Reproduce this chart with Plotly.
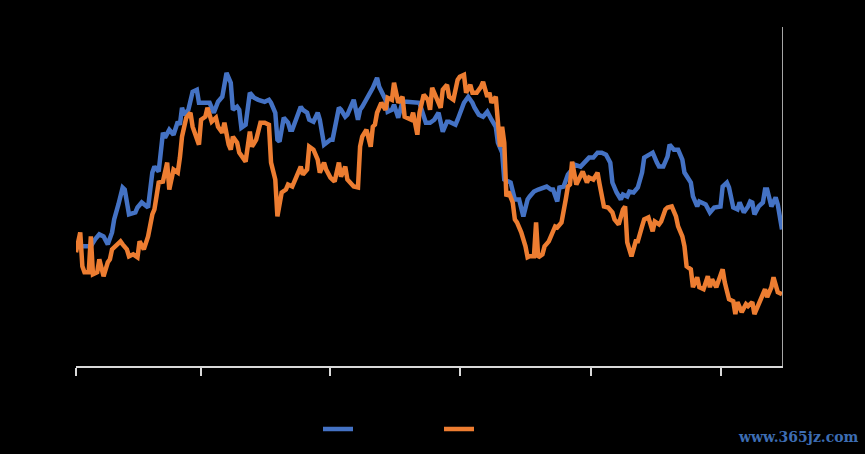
import pandas as pd
import plotly.graph_objects as go

start_date = "2018-01-01"
end_date = "2018-11-30"
tick_dates = ["2018-01-01", "2018-03-01", "2018-05-01", "2018-07-01", "2018-09-01", "2018-11-01"]
series_names = ["系列1", "系列2"]

blue_days = [0, 2, 3, 5, 7, 9, 11, 13, 15, 17, 18, 20, 22, 23, 24, 25, 28, 29, 31, 33, 34, 36, 37, 39, 41, 42, 44, 46, 48, 49,
             50, 51, 53, 55, 57, 58, 60, 62, 63, 65, 67, 69, 71, 73, 74, 76, 77, 78, 80, 82, 84, 86, 88, 89, 91, 92, 94, 95, 96, 98,
             100, 101, 102, 104, 106, 107, 109, 110, 112, 114, 115, 117, 120, 121, 124, 125, 127, 128, 131, 133, 134, 135, 137, 139, 140, 142, 143, 146, 147, 149,
             150, 152, 154, 156, 158, 161, 162, 165, 167, 169, 171, 173, 175, 176, 179, 180, 183, 185, 187, 188, 190, 192, 193, 194, 196, 198, 199, 201, 202, 205,
             207, 209, 211, 213, 214, 216, 218, 220, 222, 224, 225, 227, 228, 230, 232, 234, 235, 238, 240, 242, 244, 246, 248, 250, 252, 253, 255, 257, 258, 260,
             261, 263, 265, 267, 268, 271, 272, 274, 275, 277, 279, 280, 282, 284, 286, 287, 290, 291, 293, 294, 297, 299, 301, 304, 305, 307, 308, 310, 312, 313,
             315, 317, 318, 319, 320, 322, 324, 325, 326, 328, 330, 331, 333]
blue_vals = [0.2, 0.0, -0.2, -0.2, -0.2, 0.5, 1.0, 0.8, 0.0, 1.2, 2.5, 4.0, 5.7, 5.5, 4.5, 3.0, 3.2, 3.7, 4.2, 3.8, 3.7, 7.2, 7.8, 7.3, 11.2, 10.7, 11.5, 11.0, 12.3, 12.0,
             13.7, 13.0, 13.5, 15.3, 15.5, 14.2, 14.2, 14.3, 14.2, 13.2, 14.3, 14.8, 17.2, 16.2, 13.5, 13.8, 13.5, 11.7, 12.0, 15.2, 14.7, 14.5, 14.3, 14.3, 14.5, 14.2, 13.2, 10.5, 10.3, 12.7,
             12.2, 11.5, 11.5, 12.7, 13.8, 13.5, 13.2, 12.5, 12.3, 13.2, 12.5, 10.0, 10.5, 10.5, 13.7, 13.5, 12.8, 13.0, 14.5, 12.5, 13.5, 13.8, 14.5, 15.3, 15.7, 16.7, 15.8, 14.5, 13.3, 13.5,
             14.0, 12.7, 14.3, 14.3, 14.3, 14.3, 14.2, 12.2, 12.2, 12.5, 13.2, 11.3, 12.3, 12.3, 12.0, 12.5, 14.2, 14.8, 14.2, 13.7, 13.0, 12.8, 13.0, 13.3, 12.5, 11.8, 10.2, 9.2, 6.5, 6.2,
             4.5, 4.5, 2.8, 4.5, 4.8, 5.3, 5.5, 5.7, 5.8, 5.5, 5.5, 4.3, 5.7, 5.8, 7.0, 7.5, 8.0, 7.8, 8.2, 8.7, 8.7, 9.2, 9.2, 9.0, 8.2, 6.2, 5.2, 4.5, 5.0, 4.8,
             5.3, 5.2, 5.7, 7.2, 8.7, 9.0, 9.2, 8.2, 7.8, 7.8, 8.8, 10.0, 9.5, 9.5, 8.5, 7.2, 6.2, 4.8, 3.8, 4.3, 4.0, 3.2, 3.7, 3.8, 5.8, 6.2, 5.7, 3.7, 3.5, 4.2,
             3.2, 3.8, 4.3, 4.2, 3.0, 3.8, 4.2, 5.5, 5.5, 3.8, 4.7, 4.0, 1.5]

orange_days = [0, 2, 3, 4, 6, 7, 8, 10, 11, 13, 15, 16, 17, 18, 21, 22, 24, 25, 27, 29, 30, 32, 34, 36, 37, 39, 41, 43, 44, 46,
               48, 49, 50, 52, 54, 55, 58, 59, 61, 62, 64, 66, 67, 69, 70, 72, 73, 74, 76, 77, 80, 81, 82, 83, 85, 87, 89, 91, 92, 94,
               95, 97, 99, 100, 102, 104, 106, 107, 109, 110, 112, 114, 115, 117, 118, 120, 122, 124, 125, 127, 128, 131, 133, 134, 135, 137, 139, 140, 141, 142,
               144, 146, 147, 149, 150, 152, 154, 155, 158, 159, 161, 162, 164, 166, 167, 168, 170, 172, 173, 175, 176, 178, 180, 181, 183, 184, 186, 187, 189, 191,
               192, 194, 195, 196, 198, 199, 200, 201, 202, 203, 204, 206, 207, 208, 210, 212, 213, 214, 216, 217, 218, 220, 221, 223, 225, 226, 227, 229, 231, 232,
               233, 234, 236, 238, 239, 241, 242, 244, 246, 247, 249, 251, 253, 254, 256, 258, 259, 260, 262, 264, 265, 267, 268, 270, 272, 273, 275, 276, 278, 279,
               281, 283, 284, 286, 287, 288, 290, 291, 293, 294, 296, 298, 299, 300, 302, 305, 306, 308, 310, 311, 312, 314, 316, 317, 319, 320, 323, 325, 326, 328,
               329, 331, 333]
orange_vals = [-0.8, 1.2, -2.2, -2.8, -2.8, 0.8, -3.0, -2.8, -1.5, -3.2, -1.8, -1.5, -0.5, -0.3, 0.3, 0.0, -0.5, -1.2, -1.0, -1.3, 0.3, -0.5, 0.8, 3.0, 3.5, 6.2, 6.3, 8.2, 5.5, 7.5,
               7.2, 8.7, 10.8, 12.7, 13.2, 11.8, 10.0, 12.5, 12.8, 13.7, 12.3, 12.7, 11.8, 11.2, 12.2, 10.0, 9.5, 10.8, 10.2, 9.2, 8.3, 9.8, 11.3, 9.8, 10.5, 12.2, 12.2, 12.0, 8.2, 6.5,
               2.8, 5.2, 5.5, 6.0, 5.8, 6.8, 7.8, 7.0, 7.5, 9.8, 9.5, 8.5, 7.2, 8.2, 7.5, 6.7, 6.3, 8.2, 6.8, 7.8, 6.5, 5.8, 5.7, 9.8, 10.8, 11.5, 9.8, 11.8, 12.0, 13.2,
               14.2, 13.5, 14.7, 14.5, 16.2, 14.2, 14.8, 12.8, 12.5, 13.2, 11.0, 13.2, 15.0, 14.5, 13.5, 15.7, 14.8, 13.7, 15.5, 16.0, 14.8, 14.5, 16.5, 16.8, 17.0, 15.2, 16.0, 15.2, 15.2, 15.8,
               16.3, 14.8, 15.2, 14.2, 14.8, 12.5, 9.8, 11.8, 10.2, 4.8, 5.3, 4.2, 2.5, 2.2, 1.2, -0.2, -1.3, -1.2, -1.2, 2.2, -1.3, -1.0, -0.2, 0.3, 1.2, 1.8, 1.7, 2.2, 4.5, 5.8,
               6.0, 8.3, 6.0, 6.8, 7.3, 6.2, 6.7, 6.5, 7.2, 6.0, 3.8, 3.7, 3.2, 2.5, 2.0, 3.5, 3.8, 0.2, -1.2, 0.3, 0.3, 1.8, 2.5, 2.7, 1.3, 2.3, 2.0, 2.3, 3.5, 3.7,
               3.8, 2.8, 1.8, 0.8, -0.2, -2.2, -2.5, -4.3, -3.3, -4.3, -4.5, -3.2, -4.3, -3.5, -4.3, -2.5, -3.8, -5.5, -5.7, -7.0, -5.8, -6.8, -6.0, -6.2, -5.8, -7.0, -5.5, -4.5, -5.3, -4.3,
               -3.3, -4.8, -5.0]

y_range = [-12.2, 21.8]

base = pd.Timestamp(start_date)
blue_x = [base + pd.Timedelta(days=d) for d in blue_days]
orange_x = [base + pd.Timedelta(days=d) for d in orange_days]

fig = go.Figure()
fig.add_trace(go.Scatter(x=blue_x, y=blue_vals, mode="lines", name=series_names[0],
                         line=dict(color="#4472C4", width=4.5)))
fig.add_trace(go.Scatter(x=orange_x, y=orange_vals, mode="lines", name=series_names[1],
                         line=dict(color="#ED7D31", width=4.5)))

fig.update_layout(
    width=865, height=454,
    paper_bgcolor="#000000", plot_bgcolor="#000000",
    margin=dict(l=76, r=83, t=27, b=87),
    font=dict(family="Liberation Sans, Arial", size=12, color="#000000"),
    showlegend=True,
    legend=dict(orientation="h", x=(318 - 76) / 706, xanchor="left", y=-0.182, yanchor="middle",
                entrywidth=76, entrywidthmode="pixels",
                font=dict(color="#000000", size=12), bgcolor="rgba(0,0,0,0)"),
    xaxis=dict(type="date", range=[start_date, end_date], tickvals=tick_dates,
               showticklabels=False, ticks="outside", ticklen=8, tickwidth=1.5, tickcolor="#d9d9d9",
               showline=True, linecolor="#d9d9d9", linewidth=2, showgrid=False, zeroline=False),
    yaxis=dict(range=y_range, side="right", showline=True, linecolor="#a6a6a6", linewidth=1,
               showticklabels=False, ticks="", showgrid=False, zeroline=False),
    annotations=[dict(text="<b>www.365jz.com</b>", xref="paper", yref="paper", x=1.112, y=-0.209,
                      xanchor="right", yanchor="middle", showarrow=False,
                      font=dict(family="DejaVu Serif", size=14, color="#3d6db3"))],
)

fig.write_html("out.html")
